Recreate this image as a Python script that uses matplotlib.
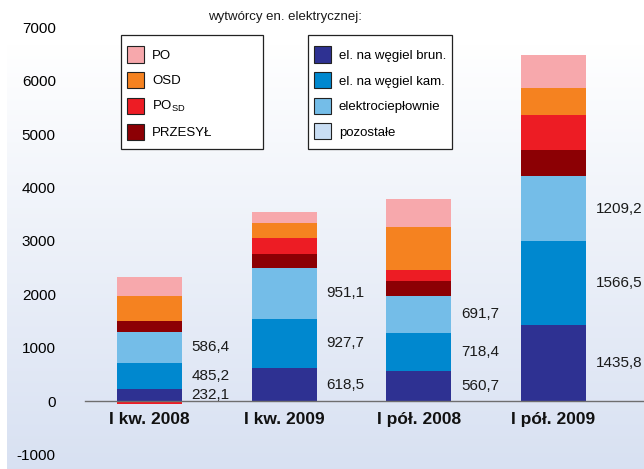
import matplotlib
matplotlib.use("Agg")
import matplotlib.pyplot as plt
import numpy as np
from matplotlib.patches import Patch, Rectangle

plt.rcParams["font.family"] = ["Liberation Sans", "DejaVu Sans"]

# --- data -----------------------------------------------------------------
categories = ["I kw. 2008", "I kw. 2009", "I pół. 2008", "I pół. 2009"]

wegiel_brun = [232.1, 618.5, 560.7, 1435.8]
wegiel_kam = [485.2, 927.7, 718.4, 1566.5]
elektrocieplownie = [586.4, 951.1, 691.7, 1209.2]
pozostale = [0.0, 0.0, 0.0, 0.0]
przesyl = [206, 262, 281, 487]
po_sd = [-50, 300, 206, 655]
osd = [468, 281, 805, 511]
po = [356, 206, 524, 612]

y_ticks = [-1000, 0, 1000, 2000, 3000, 4000, 5000, 6000, 7000]

# stack order from the bottom up
series = [
    ("el. na węgiel brun.", wegiel_brun, "#2e3192", True),
    ("el. na węgiel kam.", wegiel_kam, "#0088cf", True),
    ("elektrociepłownie", elektrocieplownie, "#74bde8", True),
    ("pozostałe", pozostale, "#c9def4", False),
    ("PRZESYŁ", przesyl, "#8c0004", False),
    ("PO$_\\mathregular{SD}$", po_sd, "#ed1c24", False),
    ("OSD", osd, "#f58220", False),
    ("PO", po, "#f7a8ac", False),
]

W, H = 644, 469
fig = plt.figure(figsize=(W / 100, H / 100), dpi=100)

# soft vertical gradient panel behind the chart
bg = fig.add_axes([7 / W, 0, 1 - 7 / W, (H - 45) / H], zorder=0)
t = np.linspace(0, 1, 256)[:, None, None]
c_top = np.array([1.0, 1.0, 1.0])
c_bot = np.array([0.847, 0.882, 0.949])
grad = c_top * (1 - t) + c_bot * t
bg.imshow(grad, aspect="auto", extent=[0, 1, 0, 1])
bg.axis("off")

ax = fig.add_axes([85 / W, 1 - 454.7 / H, 1 - 85 / W, (454.7 - 27.3) / H], zorder=1)
ax.set_facecolor("none")

x = np.arange(len(categories))
width = 0.483
pos_base = np.zeros(len(x))
neg_base = np.zeros(len(x))

for name, vals, color, labelled in series:
    v = np.asarray(vals, dtype=float)
    bottom = np.where(v >= 0, pos_base, neg_base)
    ax.bar(x, v, width, bottom=bottom, color=color, linewidth=0, zorder=2)
    if labelled:
        for xi, b, val in zip(x, bottom, v):
            ax.annotate(f"{val:.1f}".replace(".", ","),
                        xy=(xi + width / 2, b + val / 2),
                        xytext=(7, 0), textcoords="offset points",
                        ha="left", va="center", fontsize=11, color="#1a1a1a")
    pos_base = pos_base + np.where(v >= 0, v, 0)
    neg_base = neg_base + np.where(v < 0, v, 0)

ax.set_xlim(-0.479, 3.672)
ax.set_ylim(-1000, 7000)
ax.set_yticks(y_ticks)
ax.set_yticklabels([str(tk) for tk in y_ticks], fontsize=11)
ax.set_xticks(x)
ax.set_xticklabels(categories)

for s in ("left", "right", "top"):
    ax.spines[s].set_visible(False)
ax.spines["bottom"].set_position(("data", 0))
ax.spines["bottom"].set_color("#6e6e6e")
ax.spines["bottom"].set_linewidth(1.0)
ax.spines["bottom"].set_zorder(3)
ax.tick_params(axis="y", length=0, pad=21)
ax.tick_params(axis="x", length=0, pad=7.5)
for lbl in ax.get_xticklabels():
    lbl.set_fontweight("bold")
    lbl.set_fontsize(12.5)
    lbl.set_color("#111111")

# two legend boxes: network operators on the left, generators on the right
left_items = [series[i] for i in (7, 6, 5, 4)]
right_items = [series[i] for i in (0, 1, 2, 3)]


def make_legend(items, box, content_xy):
    bx0, by0, bx1, by1 = box
    fig.patches.append(Rectangle((bx0 / W, 1 - by1 / H), (bx1 - bx0) / W, (by1 - by0) / H,
                                 transform=fig.transFigure, facecolor="white",
                                 edgecolor="#222222", linewidth=0.9, zorder=4))
    handles = [Patch(facecolor=c, edgecolor="#222222", linewidth=0.8) for _, _, c, _ in items]
    labels = [n for n, _, _, _ in items]
    leg = fig.legend(handles, labels, loc="upper left",
                     bbox_to_anchor=(content_xy[0] / W, 1 - content_xy[1] / H),
                     borderaxespad=0, borderpad=0, fontsize=9.5, frameon=False,
                     handlelength=1.29, handleheight=1.5, handletextpad=0.6,
                     labelspacing=0.72)
    leg.set_zorder(5)
    return leg


make_legend(left_items, (121, 35, 263, 149), (127, 46.5))
make_legend(right_items, (308, 35, 452, 149), (314, 46.5))

fig.text(285 / W, 1 - 17 / H, "wytwórcy en. elektrycznej:", ha="center", va="center",
         fontsize=9.5, color="#1a1a1a")

fig.savefig("out.png", dpi=100)
